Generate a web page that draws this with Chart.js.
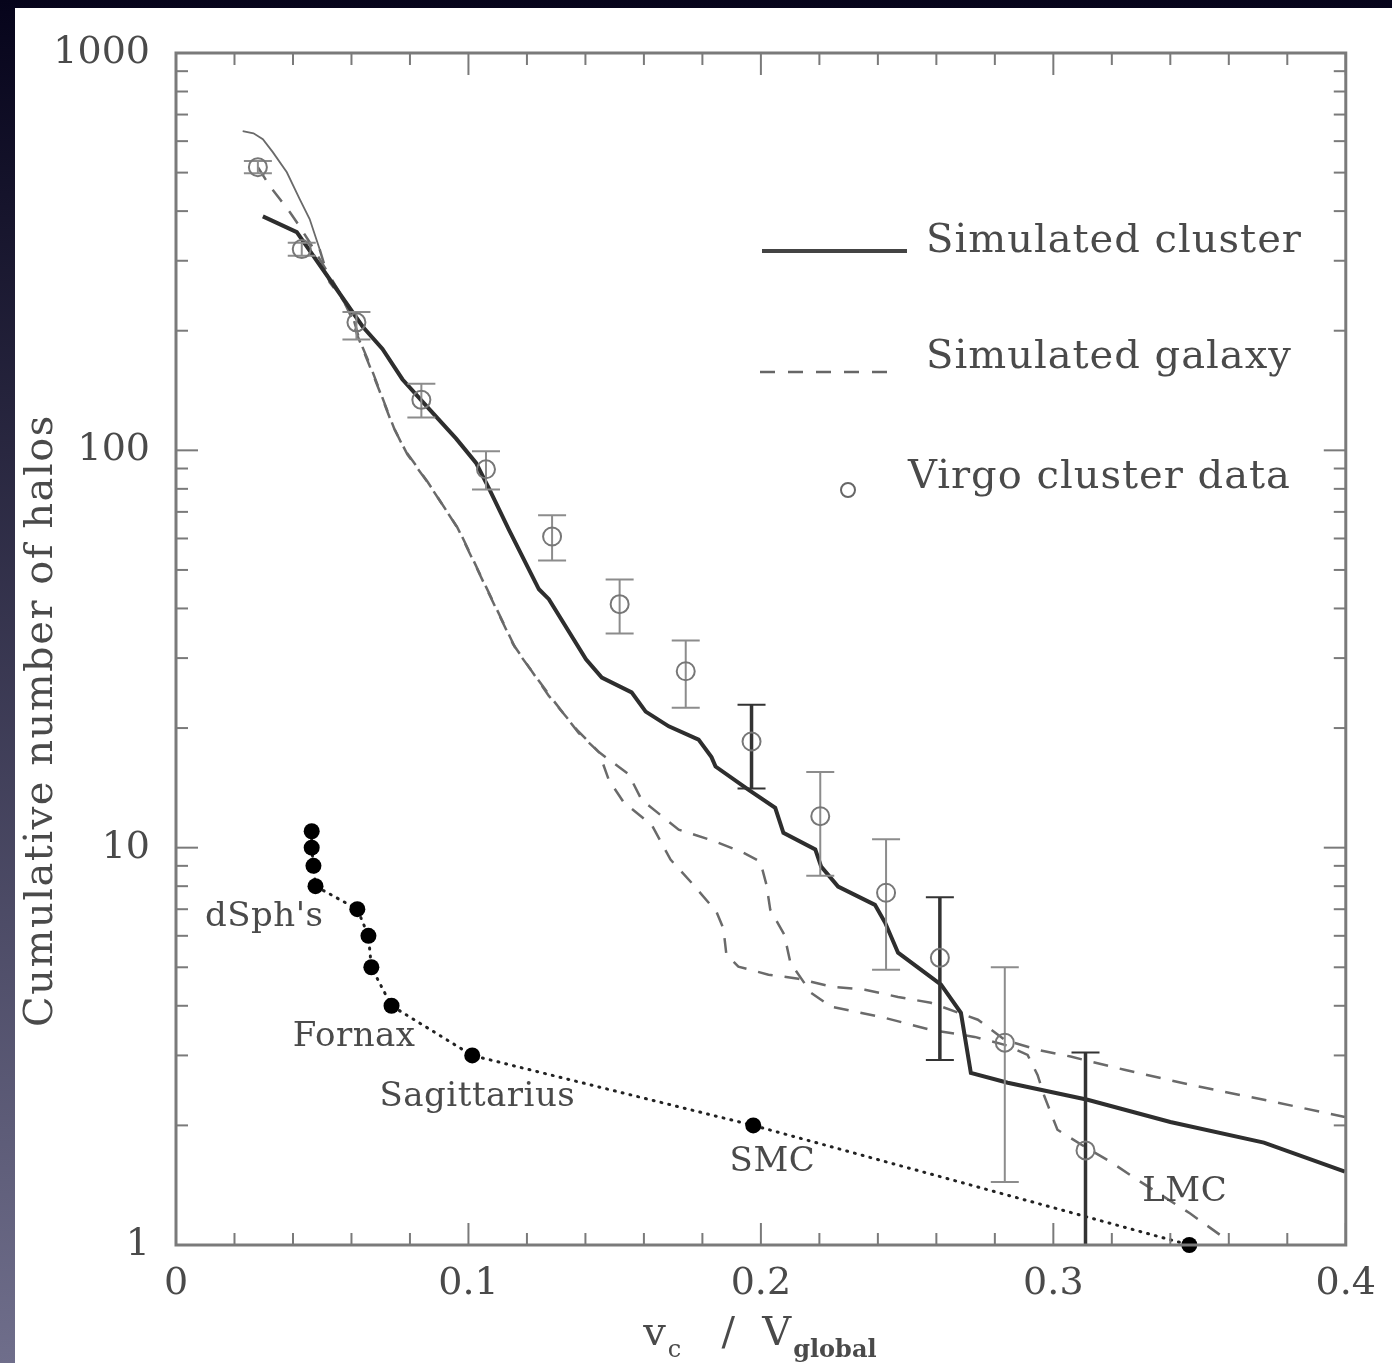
<!DOCTYPE html>
<html>
<head>
<meta charset="utf-8">
<script src="https://cdn.jsdelivr.net/npm/chart.js@4.4.1/dist/chart.umd.min.js"></script>
<style>
  body { margin: 0; }
  #wrap { position: relative; width: 1392px; height: 1363px; background: linear-gradient(#06041b, #6f6e8b); overflow: hidden; }
  #paper { position: absolute; left: 15px; top: 8px; right: 0; bottom: 0; background: #fff; }
  #c { position: absolute; left: 0; top: 0; filter: blur(0.6px); }
</style>
</head>
<body>
<div id="wrap">
  <div id="paper"></div>
  <canvas id="c" width="1392" height="1363"></canvas>
</div>
<script>
// cumulative halo counts vs vc / Vglobal

const clusterX = [0.0297, 0.0413, 0.0447, 0.0501, 0.0638, 0.0706, 0.0774, 0.0866, 0.0958, 0.1026,
  0.1071, 0.1139, 0.1241, 0.1275, 0.1402, 0.1456, 0.1558, 0.1606, 0.1685, 0.1787,
  0.1831, 0.1845, 0.1957, 0.2049, 0.2077, 0.2186, 0.2206, 0.2264, 0.2390, 0.2425,
  0.2469, 0.2616, 0.2684, 0.2718, 0.2844, 0.3117, 0.3400, 0.3720, 0.3997];
const clusterY = [388, 354, 326, 286, 205, 180, 151, 127, 107, 93,
  80, 63, 44.7, 42.2, 29.8, 26.8, 24.6, 22.0, 20.2, 18.7,
  16.9, 16.0, 14.0, 12.6, 10.9, 9.9, 8.96, 7.98, 7.18, 6.47,
  5.44, 4.52, 3.84, 2.71, 2.56, 2.32, 2.04, 1.81, 1.53];

// two simulated galaxies
const galaxyAX = [0.0228, 0.0265, 0.0297, 0.0331, 0.0379, 0.0423, 0.0457, 0.0491, 0.0525, 0.0569,
  0.0604, 0.0627, 0.0662, 0.0702, 0.0747, 0.0791, 0.0866, 0.0968, 0.1061, 0.1163,
  0.1286, 0.1378, 0.1446, 0.1480, 0.1531, 0.1627, 0.1691, 0.1763, 0.1848, 0.1872,
  0.1882, 0.1923, 0.2026, 0.2128, 0.2240, 0.2356, 0.2469, 0.2581, 0.2742, 0.2834,
  0.2946, 0.3059, 0.3243, 0.3468, 0.3720, 0.3997];
const galaxyAY = [636, 628, 607, 563, 501, 429, 382, 321, 265, 240,
  218, 190, 165, 138, 113, 97.7, 82, 62.9, 45.2, 31.5,
  23.7, 19.4, 17.4, 14.8, 13.0, 11.4, 9.33, 8.16, 6.90, 6.25,
  5.38, 5.02, 4.79, 4.68, 4.47, 4.39, 4.21, 4.07, 3.69, 3.28,
  3.10, 2.98, 2.76, 2.53, 2.32, 2.10];

const galaxyBX = [0.0280, 0.0321, 0.0355, 0.0389, 0.0413, 0.0457, 0.0508, 0.0559, 0.0600, 0.0621,
  0.0655, 0.0696, 0.0740, 0.0781, 0.0859, 0.0962, 0.1050, 0.1153, 0.1275, 0.1371,
  0.1446, 0.1548, 0.1592, 0.1719, 0.1838, 0.1940, 0.1998, 0.2019, 0.2032, 0.2080,
  0.2101, 0.2172, 0.2240, 0.2411, 0.2581, 0.2731, 0.2834, 0.2912, 0.2946, 0.2970,
  0.3014, 0.3106, 0.3195, 0.3287, 0.3468, 0.3594];
const galaxyBY = [516, 462, 429, 398, 375, 334, 289, 250, 216, 194,
  168, 141, 116, 100.6, 83.6, 64, 46.8, 32.5, 24.1, 19.8,
  17.4, 15.3, 13.2, 11.1, 10.4, 9.71, 9.22, 8.07, 6.98, 6.04,
  5.13, 4.31, 3.98, 3.75, 3.48, 3.34, 3.19, 3.01, 2.68, 2.36,
  1.95, 1.77, 1.62, 1.46, 1.20, 1.03];

// Virgo cluster with error bars
const virgoX  = [0.028, 0.043, 0.0617, 0.0839, 0.106, 0.1286, 0.1517, 0.1743, 0.1968, 0.2203, 0.2428, 0.2612, 0.2834, 0.311];
const virgoY  = [516, 321, 210, 134, 89.6, 60.7, 41, 27.8, 18.5, 12.0, 7.7, 5.28, 3.23, 1.73];
const virgoHi = [535, 333, 223, 147, 99.4, 68.6, 47.3, 33.2, 22.9, 15.5, 10.5, 7.5, 5.0, 3.05];
const virgoLo = [498, 309, 190, 121, 79.7, 52.8, 34.6, 22.5, 14.1, 8.5, 4.93, 2.92, 1.44, 0.5];

// Milky Way satellites
const dwarfX = [0.0464, 0.0464, 0.0470, 0.0477, 0.0620, 0.0658, 0.0668, 0.0737, 0.1013, 0.1974, 0.3465];
const dwarfY = [11, 10, 9, 8, 7, 6, 5, 4, 3, 2, 1];

const xTicks = [0, 0.1, 0.2, 0.3, 0.4];
const yTicks = [1, 10, 100, 1000];

const pts = (xs, ys) => xs.map((x, i) => ({ x: x, y: ys[i] }));

const SERIF = '"DejaVu Serif", "Liberation Serif", serif';
const INK = '#4a4a4a';

// labels next to the satellites, placed in data units
const notes = [
  { text: "dSph's", x: 0.0099, y: 6.7 },
  { text: 'Fornax', x: 0.0399, y: 3.34 },
  { text: 'Sagittarius', x: 0.0696, y: 2.36 },
  { text: 'SMC', x: 0.1893, y: 1.62 },
  { text: 'LMC', x: 0.3304, y: 1.36 }
];
const thickBars = [8, 11, 13];

function line(ctx, x1, y1, x2, y2) {
  ctx.beginPath();
  ctx.moveTo(x1, y1);
  ctx.lineTo(x2, y2);
  ctx.stroke();
}

const decor = {
  id: 'decor',
  beforeDatasetDraw(chart, args) {
    if (args.index !== 0) return;
    const ctx = chart.ctx, a = chart.chartArea;
    const xs = chart.scales.x, ys = chart.scales.y;
    ctx.save();
    ctx.beginPath();
    ctx.rect(a.left, a.top, a.width, a.height);
    ctx.clip();
    virgoX.forEach((v, i) => {
      const px = xs.getPixelForValue(v);
      const top = ys.getPixelForValue(virgoHi[i]);
      const bot = ys.getPixelForValue(virgoLo[i]);
      const thick = thickBars.includes(i);
      ctx.strokeStyle = thick ? '#333' : '#8c8c8c';
      ctx.lineWidth = thick ? 3.5 : 2;
      line(ctx, px, top, px, bot);
      ctx.lineWidth = 2;
      line(ctx, px - 14, top, px + 14, top);
      line(ctx, px - 14, bot, px + 14, bot);
    });
    ctx.restore();
  },
  afterDraw(chart) {
    const ctx = chart.ctx, a = chart.chartArea;
    const xs = chart.scales.x, ys = chart.scales.y;
    ctx.save();

    // frame and inward ticks
    ctx.strokeStyle = '#7a7a7a';
    ctx.lineWidth = 2;
    for (let i = 0; i <= 20; i++) {
      const px = xs.getPixelForValue(i * 0.02);
      const len = i % 5 === 0 ? 22 : 12;
      line(ctx, px, a.bottom, px, a.bottom - len);
      line(ctx, px, a.top, px, a.top + len);
    }
    for (let d = 0; d < 3; d++) {
      for (let k = 1; k <= 9; k++) {
        const py = ys.getPixelForValue(k * Math.pow(10, d));
        const len = k === 1 ? 22 : 12;
        line(ctx, a.left, py, a.left + len, py);
        line(ctx, a.right, py, a.right - len, py);
      }
    }
    ctx.lineWidth = 3;
    ctx.strokeRect(a.left, a.top, a.width, a.height);

    // legend
    const L = a.left, T = a.top;
    ctx.strokeStyle = '#444';
    ctx.lineWidth = 4;
    line(ctx, L + 586, T + 198, L + 731, T + 198);
    ctx.strokeStyle = '#666';
    ctx.lineWidth = 2.5;
    ctx.setLineDash([15, 13]);
    line(ctx, L + 584, T + 319, L + 716, T + 319);
    ctx.setLineDash([]);
    ctx.strokeStyle = '#666';
    ctx.lineWidth = 2;
    ctx.beginPath();
    ctx.arc(L + 672, T + 437, 7, 0, Math.PI * 2);
    ctx.stroke();

    ctx.fillStyle = INK;
    ctx.textBaseline = 'middle';
    ctx.textAlign = 'left';
    ctx.font = '40px ' + SERIF;
    ctx.letterSpacing = '1px';
    ctx.fillText('Simulated cluster', L + 750, T + 189);
    ctx.fillText('Simulated galaxy', L + 750, T + 305);
    ctx.fillText('Virgo cluster data', L + 732, T + 425);

    // satellite names
    ctx.font = '34px ' + SERIF;
    ctx.letterSpacing = '0.5px';
    notes.forEach(n => {
      ctx.fillText(n.text, xs.getPixelForValue(n.x), ys.getPixelForValue(n.y));
    });

    // y title
    ctx.save();
    ctx.translate(42, a.top + a.height * 0.56);
    ctx.rotate(-Math.PI / 2);
    ctx.textAlign = 'center';
    ctx.font = '40px ' + SERIF;
    ctx.letterSpacing = '1.5px';
    ctx.fillText('Cumulative number of halos', 0, 0);
    ctx.restore();

    // x title with subscripts
    ctx.letterSpacing = '0px';
    ctx.textBaseline = 'alphabetic';
    const main = '40px ' + SERIF, sub = '24px ' + SERIF, subB = 'bold 24px ' + SERIF;
    const parts = [
      { t: 'v', f: main, dy: 0 },
      { t: 'c', f: sub, dy: 12 },
      { t: '   /  ', f: main, dy: 0 },
      { t: 'V', f: main, dy: 0 },
      { t: 'global', f: subB, dy: 12 }
    ];
    let w = 0;
    parts.forEach(p => { ctx.font = p.f; p.w = ctx.measureText(p.t).width + 2; w += p.w; });
    let x = (a.left + a.right) / 2 - w / 2;
    parts.forEach(p => {
      ctx.font = p.f;
      ctx.fillText(p.t, x, 1345 + p.dy);
      x += p.w;
    });
    ctx.restore();
  }
};

new Chart(document.getElementById('c'), {
  type: 'scatter',
  data: {
    datasets: [{
      label: 'Virgo cluster data',
      data: pts(virgoX, virgoY),
      pointStyle: 'circle',
      pointRadius: 9,
      pointBorderWidth: 2,
      pointBorderColor: '#777',
      pointBackgroundColor: 'rgba(255,255,255,0)'
    }, {
      label: 'Satellites',
      data: pts(dwarfX, dwarfY),
      showLine: true,
      clip: false,
      borderColor: '#222',
      borderWidth: 3,
      borderDash: [1, 7],
      borderCapStyle: 'round',
      pointRadius: 8,
      pointBorderWidth: 0,
      pointBackgroundColor: '#000'
    }, {
      label: 'Simulated cluster',
      data: pts(clusterX, clusterY),
      showLine: true,
      borderColor: '#2e2e2e',
      borderWidth: 4,
      pointRadius: 0
    }, {
      label: 'Simulated galaxy A',
      data: pts(galaxyAX, galaxyAY),
      showLine: true,
      borderColor: '#6a6a6a',
      borderWidth: 2.5,
      borderDash: [15, 12],
      segment: {
        borderDash: c => c.p1.parsed.x <= 0.05 ? [] : undefined,
        borderWidth: c => c.p1.parsed.x <= 0.05 ? 1.8 : undefined
      },
      pointRadius: 0
    }, {
      label: 'Simulated galaxy B',
      data: pts(galaxyBX, galaxyBY),
      showLine: true,
      borderColor: '#6a6a6a',
      borderWidth: 2.5,
      borderDash: [15, 12],
      pointRadius: 0
    }]
  },
  options: {
    responsive: false,
    devicePixelRatio: 1,
    animation: false,
    events: [],
    layout: { padding: { left: 15, top: 53, right: 43, bottom: 0 } },
    plugins: { legend: { display: false }, tooltip: { enabled: false } },
    scales: {
      x: {
        type: 'linear',
        min: 0,
        max: 0.4,
        afterFit: s => { s.height = 118; },
        afterBuildTicks: s => { s.ticks = xTicks.map(v => ({ value: v })); },
        grid: { display: false, drawTicks: false },
        border: { display: false },
        ticks: {
          padding: 16,
          color: INK,
          font: { family: SERIF, size: 38 },
          callback: v => v === 0 ? '0' : v.toFixed(1)
        }
      },
      y: {
        type: 'logarithmic',
        min: 1,
        max: 1000,
        afterFit: s => { s.width = 161; },
        afterBuildTicks: s => { s.ticks = yTicks.map(v => ({ value: v })); },
        grid: { display: false, drawTicks: false },
        border: { display: false },
        ticks: {
          padding: 26,
          color: INK,
          font: { family: SERIF, size: 38 },
          callback: v => String(v)
        }
      }
    }
  },
  plugins: [decor]
});
</script>
</body>
</html>
